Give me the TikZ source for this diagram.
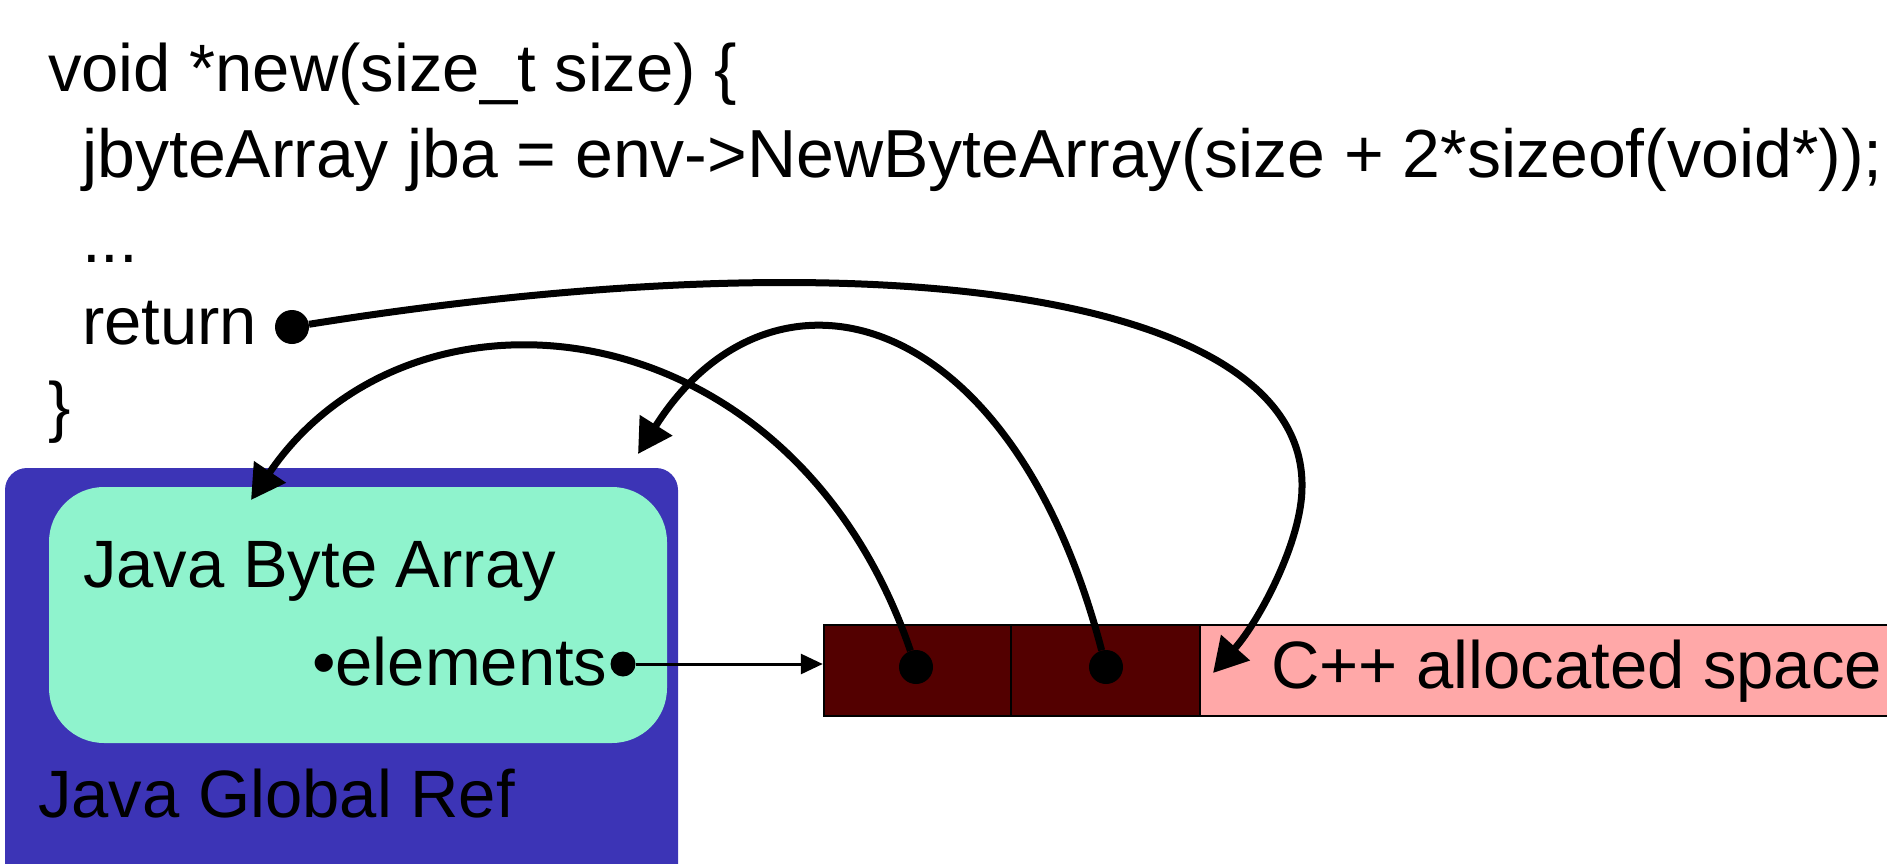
\documentclass[tikz,border=0pt]{standalone}
\usepackage{fontspec}
\setmainfont{Liberation Sans}
\usetikzlibrary{arrows.meta}
\definecolor{refblue}{RGB}{60,52,182}
\definecolor{bytegreen}{RGB}{143,243,205}
\definecolor{cellred}{RGB}{83,0,0}
\definecolor{cellpink}{RGB}{255,168,168}
\newcommand{\slidefont}{\fontsize{67pt}{80pt}\selectfont}

\begin{document}
\begin{tikzpicture}[x=1pt,y=-1pt,
  txt/.style={anchor=base west,inner sep=0pt,font=\slidefont},
  cell/.style={draw=black,line width=2.5pt,minimum height=91pt,inner sep=0pt},
  dot/.style={circle,fill=black,inner sep=0pt,minimum size=34pt},
  ptr/.style={line width=7pt,-{Triangle[length=34pt,width=37pt]}}]
\clip (0,0) rectangle (1887,864);
% the code
\node[txt] (L1) at (48,92) {void *new(size\_t size) \{};
\node[txt,font=\fontsize{68pt}{80pt}\selectfont] (L2) at (82,177) {jbyteArray jba = env->NewByteArray(size + 2*sizeof(void*));};
\node[txt] (L3) at (82,262) {...};
\node[txt] (L4) at (82,344) {return};
\node[txt] (L5) at (48,429) {\}};
% boxes
\node[fill=refblue,rounded corners=22pt,minimum width=673pt,minimum height=432pt] (G) at (341.5,684) {};
\node[fill=bytegreen,rounded corners=55pt,minimum width=618pt,minimum height=256pt] (J) at (358,615) {};
\node[txt] (JBA) at (83,587) {Java Byte Array};
\node[txt] (EL) at (312,685) {•elements};
\node[txt] (JGR) at (38,817) {Java Global Ref};
\node[cell,fill=cellred,minimum width=187pt] (C1) at (917.5,670.5) {};
\node[cell,fill=cellred,minimum width=189pt] (C2) at (1105.5,670.5) {};
\node[cell,fill=cellpink,minimum width=750pt] (C3) at (1575,670.5) {};
\node[txt] (CPP) at (1271,688) {C++ allocated space};
% pointers
\node[dot] (R) at (292,327) {};
\node[dot,minimum size=25pt] (E) at (623,664) {};
\node[dot] (D1) at (916,667) {};
\node[dot] (D2) at (1106,667) {};
\coordinate (T1) at (251,500);
\coordinate (T2) at (638,454);
\coordinate (T3) at (1213,673);
\coordinate (M3) at (1302,487);
\draw[line width=3pt,-{Triangle[length=22pt,width=20pt]}] (E) -- (E -| C1.west);
\draw[ptr] (D1) .. controls (790,300) and (410,265) .. (T1);
\draw[ptr] (D2) .. controls (1010,300) and (770,245) .. (T2);
\draw[ptr] (R) .. controls (900,230) and (1305,300) .. (M3) .. controls (1302,540) and (1260,620) .. (T3);
\end{tikzpicture}
\end{document}
